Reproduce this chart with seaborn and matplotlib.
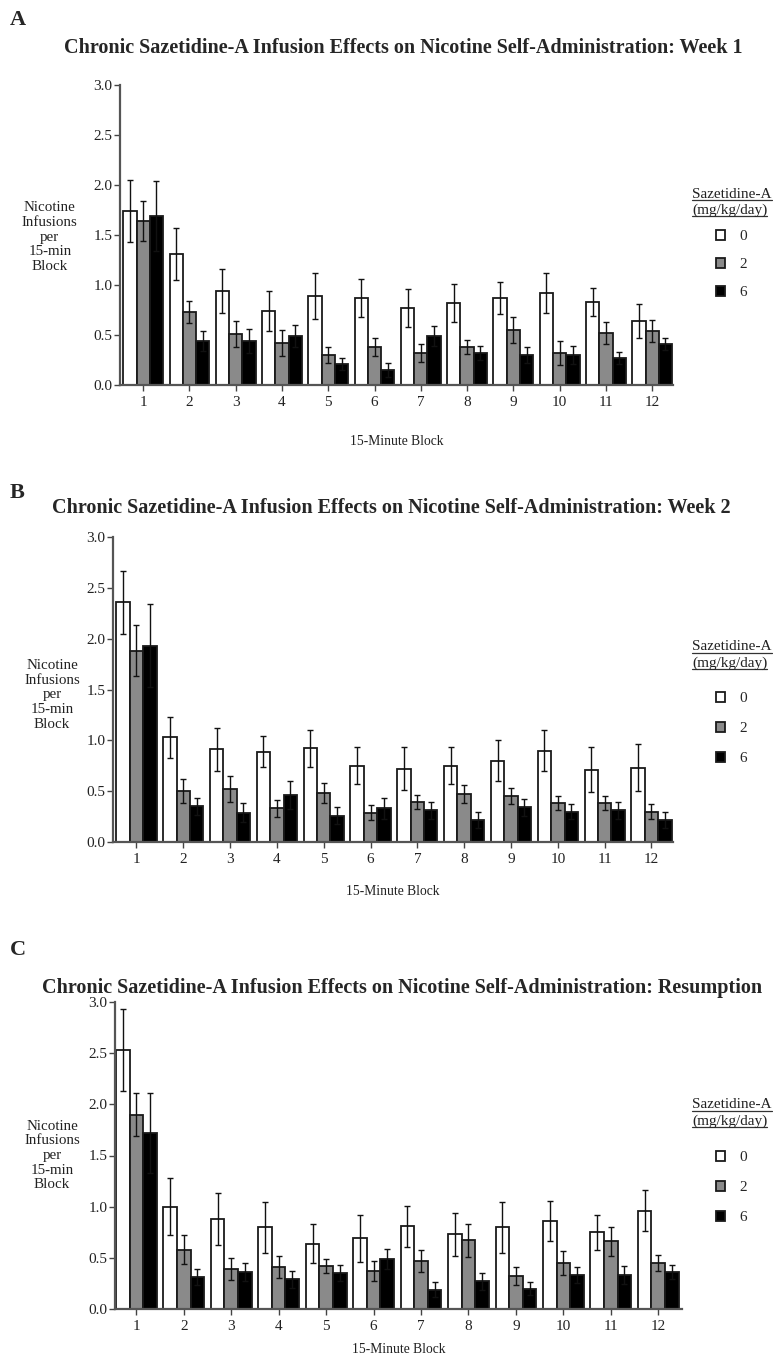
import numpy as np
import pandas as pd
import matplotlib
matplotlib.use("Agg")
import matplotlib.pyplot as plt
import seaborn as sns
from matplotlib.lines import Line2D

blocks = [str(i) for i in range(1, 13)]
doses = ["0", "2", "6"]
dose_colors = ["white", "#8a8a8a", "black"]

# Panel A: Week 1 (means and SEM per dose)
week1_mean_0 = [1.74, 1.31, 0.94, 0.74, 0.89, 0.87, 0.77, 0.82, 0.87, 0.92, 0.83, 0.64]
week1_mean_2 = [1.64, 0.73, 0.51, 0.42, 0.30, 0.38, 0.32, 0.38, 0.55, 0.32, 0.52, 0.54]
week1_mean_6 = [1.69, 0.44, 0.44, 0.49, 0.21, 0.15, 0.49, 0.32, 0.30, 0.30, 0.27, 0.41]
week1_sem_0 = [0.31, 0.26, 0.22, 0.20, 0.23, 0.19, 0.19, 0.19, 0.16, 0.20, 0.14, 0.17]
week1_sem_2 = [0.20, 0.11, 0.13, 0.13, 0.08, 0.09, 0.09, 0.07, 0.13, 0.12, 0.11, 0.11]
week1_sem_6 = [0.35, 0.10, 0.12, 0.11, 0.06, 0.07, 0.10, 0.07, 0.08, 0.09, 0.06, 0.06]

# Panel B: Week 2
week2_mean_0 = [2.36, 1.03, 0.91, 0.89, 0.92, 0.75, 0.72, 0.75, 0.80, 0.90, 0.71, 0.73]
week2_mean_2 = [1.88, 0.50, 0.52, 0.33, 0.48, 0.29, 0.39, 0.47, 0.45, 0.38, 0.38, 0.30]
week2_mean_6 = [1.93, 0.35, 0.29, 0.46, 0.26, 0.33, 0.31, 0.22, 0.34, 0.30, 0.31, 0.22]
week2_sem_0 = [0.31, 0.20, 0.21, 0.15, 0.18, 0.18, 0.21, 0.18, 0.20, 0.20, 0.22, 0.23]
week2_sem_2 = [0.25, 0.12, 0.13, 0.08, 0.10, 0.07, 0.07, 0.09, 0.08, 0.07, 0.07, 0.07]
week2_sem_6 = [0.41, 0.08, 0.09, 0.14, 0.08, 0.10, 0.08, 0.08, 0.08, 0.07, 0.08, 0.08]

# Panel C: Resumption
resum_mean_0 = [2.53, 1.00, 0.88, 0.80, 0.64, 0.69, 0.81, 0.73, 0.80, 0.86, 0.75, 0.96]
resum_mean_2 = [1.90, 0.58, 0.39, 0.41, 0.42, 0.37, 0.47, 0.67, 0.32, 0.45, 0.66, 0.45]
resum_mean_6 = [1.72, 0.31, 0.36, 0.29, 0.35, 0.49, 0.19, 0.27, 0.20, 0.33, 0.33, 0.36]
resum_sem_0 = [0.40, 0.28, 0.25, 0.25, 0.19, 0.23, 0.20, 0.21, 0.25, 0.20, 0.17, 0.20]
resum_sem_2 = [0.21, 0.14, 0.11, 0.11, 0.07, 0.10, 0.11, 0.16, 0.09, 0.12, 0.14, 0.08]
resum_sem_6 = [0.39, 0.08, 0.09, 0.08, 0.08, 0.10, 0.07, 0.08, 0.06, 0.08, 0.09, 0.07]

titles = [
    "Chronic Sazetidine-A Infusion Effects on Nicotine Self-Administration: Week 1",
    "Chronic Sazetidine-A Infusion Effects on Nicotine Self-Administration: Week 2",
    "Chronic Sazetidine-A Infusion Effects on Nicotine Self-Administration: Resumption",
]
letters = ["A", "B", "C"]

sns.set_style("ticks")
plt.rcParams["font.family"] = ["Liberation Serif", "DejaVu Serif"]

W, H = 773, 1357
fig = plt.figure(figsize=(W / 100, H / 100), dpi=100)

# pixel layout per panel
layout = [
    dict(box=(120, 673, 85, 385), xlim=(-0.5, 11.45), ty=48, tx=403, ly=20,
         yl=(-0.127, 0.493), xl=0.167, leg_t=194, leg_e=237, leg_ls=0.95),
    dict(box=(113, 673, 537, 842), xlim=(-0.5, 11.46), ty=508, tx=391, ly=493,
         yl=(-0.109, 0.482), xl=0.141, leg_t=647, leg_e=699, leg_ls=1.08),
    dict(box=(115, 682, 1002, 1309), xlim=(-0.45, 11.5), ty=988, tx=402, ly=950,
         yl=(-0.111, 0.50), xl=0.111, leg_t=1105, leg_e=1158, leg_ls=1.08),
]

panels = [
    ([week1_mean_0, week1_mean_2, week1_mean_6], [week1_sem_0, week1_sem_2, week1_sem_6]),
    ([week2_mean_0, week2_mean_2, week2_mean_6], [week2_sem_0, week2_sem_2, week2_sem_6]),
    ([resum_mean_0, resum_mean_2, resum_mean_6], [resum_sem_0, resum_sem_2, resum_sem_6]),
]

title_texts = []
for i, ((means, sems), lay) in enumerate(zip(panels, layout)):
    l, r, t, b = lay["box"]
    ax = fig.add_axes([l / W, 1 - b / H, (r - l) / W, (b - t) / H])

    rows = []
    for d, m in zip(doses, means):
        for blk, v in zip(blocks, m):
            rows.append({"block": blk, "dose": d, "mean": v})
    df = pd.DataFrame(rows)

    sns.barplot(data=df, x="block", y="mean", hue="dose", hue_order=doses,
                order=blocks, palette=dose_colors, edgecolor="#1a1a1a",
                linewidth=1.3, width=0.86, errorbar=None, legend=False, ax=ax)

    bar_conts = list(ax.containers)
    for cont, s in zip(bar_conts, sems):
        xs = [p.get_x() + p.get_width() / 2 for p in cont]
        hs = [p.get_height() for p in cont]
        ax.errorbar(xs, hs, yerr=s, fmt="none", ecolor="#111111",
                    elinewidth=1.0, capsize=2.3, capthick=1.0, zorder=3)

    ax.set_xlim(*lay["xlim"])
    ax.set_ylim(0, 3.0)
    ax.set_yticks([0, 0.5, 1.0, 1.5, 2.0, 2.5, 3.0])
    ax.set_yticklabels(["0.0", "0.5", "1.0", "1.5", "2.0", "2.5", "3.0"])
    ax.tick_params(axis="both", labelsize=11, length=4, width=1.0,
                   color="#444444", labelcolor="#222222")
    ax.tick_params(axis="x", pad=4)
    ax.tick_params(axis="y", pad=1.5)
    sns.despine(ax=ax)
    for sp in ["left", "bottom"]:
        ax.spines[sp].set_linewidth(1.6)
        ax.spines[sp].set_color("#555555")

    ax.set_xlabel("15-Minute Block", fontsize=9.8, color="#222222")
    ax.xaxis.set_label_coords(0.5, -lay["xl"])
    ax.xaxis.label.set_va("top")
    ax.set_ylabel("Nicotine\nInfusions\nper\n15-min\nBlock", rotation=0,
                  fontsize=10.8, color="#222222", ha="center", va="center",
                  linespacing=1.16)
    ax.yaxis.set_label_coords(*lay["yl"])

    fig.text(10 / W, 1 - lay["ly"] / H, letters[i], fontsize=16,
             fontweight="bold", va="center", ha="left")
    fig.text(lay["tx"] / W, 1 - lay["ty"] / H, titles[i], fontsize=14.5,
             fontweight="bold", va="center", ha="center")

    # legend entries
    handles = [c.patches[0] for c in bar_conts]
    fig.legend(handles, doses, loc="upper left",
               bbox_to_anchor=(716 / W, 1 - (lay["leg_e"] - 7) / H),
               frameon=False, fontsize=11, handlelength=0.62,
               handleheight=0.62, labelspacing=lay["leg_ls"],
               handletextpad=0.9, borderpad=0, borderaxespad=0)

    for k, line in enumerate(["Sazetidine-A", "(mg/kg/day)"]):
        tt = fig.text(692 / W, 1 - (lay["leg_t"] + k * 16.5) / H, line,
                      fontsize=11, color="#222222", va="center", ha="left")
        title_texts.append(tt)

fig.canvas.draw()
renderer = fig.canvas.get_renderer()
inv = fig.transFigure.inverted()
for tt in title_texts:
    bb = tt.get_window_extent(renderer)
    (x0, y0), (x1, _) = inv.transform([[bb.x0, bb.y0], [bb.x1, bb.y1]])
    fig.add_artist(Line2D([x0, x1], [y0 + 1.0 / H, y0 + 1.0 / H],
                          transform=fig.transFigure, color="#333333", lw=0.9))

fig.savefig("out.png", dpi=100)
